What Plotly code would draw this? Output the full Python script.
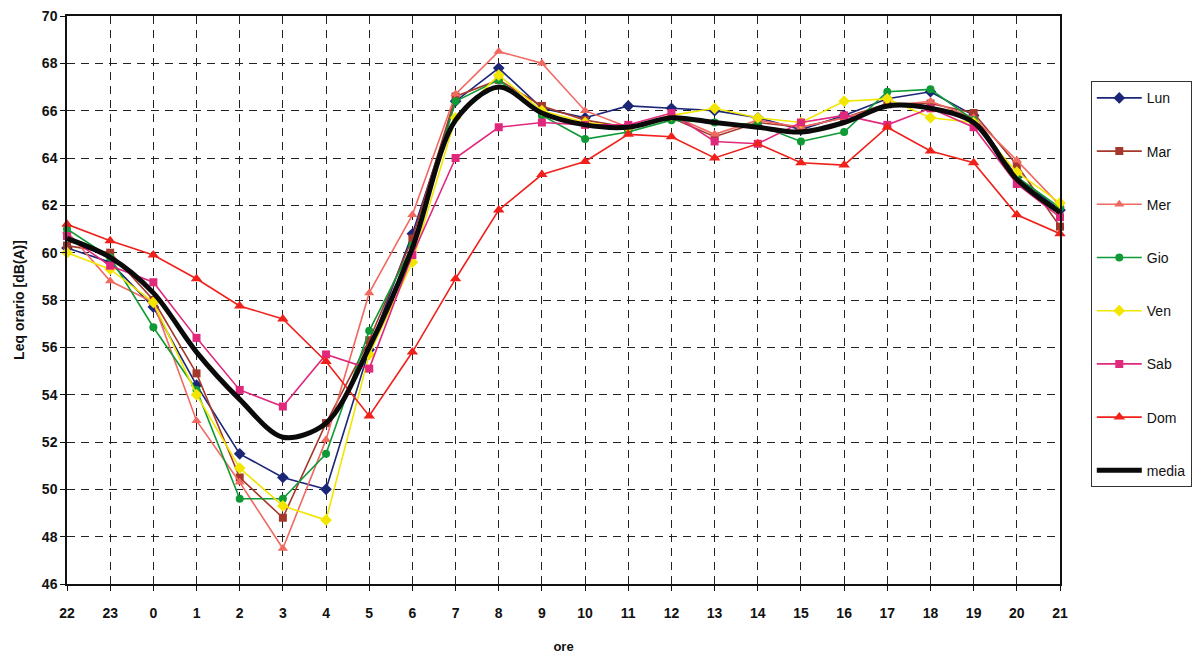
import plotly.graph_objects as go

# Hourly equivalent sound level, one series per weekday plus the average
hours = ["22", "23", "0", "1", "2", "3", "4", "5", "6", "7", "8", "9",
         "10", "11", "12", "13", "14", "15", "16", "17", "18", "19", "20", "21"]

lun = [60.2, 59.6, 57.7, 54.4, 51.5, 50.5, 50.0, 55.9, 60.8, 66.4, 67.8, 66.1,
       65.7, 66.2, 66.1, 66.0, 65.7, 65.2, 65.8, 66.5, 66.8, 65.8, 63.2, 61.8]
mar = [60.3, 60.0, 58.0, 54.9, 50.5, 48.8, 52.8, 56.3, 60.6, 66.6, 67.3, 66.2,
       65.6, 65.3, 65.7, 64.9, 65.5, 65.3, 65.7, 66.3, 66.3, 65.9, 63.7, 61.1]
mer = [60.9, 58.8, 57.9, 52.9, 50.3, 47.5, 52.1, 58.3, 61.6, 66.7, 68.5, 68.0,
       66.0, 65.3, 65.8, 65.0, 65.6, 65.3, 65.7, 66.2, 66.4, 65.7, 63.9, 62.0]
gio = [61.0, 59.8, 56.85, 54.2, 49.6, 49.6, 51.5, 56.7, 60.3, 66.4, 67.3, 65.8,
       64.8, 65.1, 65.6, 65.5, 65.4, 64.7, 65.1, 66.8, 66.9, 65.6, 63.2, 61.9]
ven = [60.0, 59.3, 57.9, 54.0, 50.9, 49.3, 48.7, 55.7, 59.6, 65.7, 67.5, 66.0,
       65.5, 65.3, 65.8, 66.1, 65.7, 65.5, 66.4, 66.5, 65.7, 65.5, 63.4, 62.1]
sab = [60.7, 59.45, 58.75, 56.4, 54.2, 53.5, 55.7, 55.1, 59.9, 64.0, 65.3, 65.5,
       65.4, 65.4, 65.9, 64.7, 64.6, 65.5, 65.8, 65.4, 66.1, 65.3, 62.9, 61.5]
dom = [61.2, 60.5, 59.9, 58.9, 57.75, 57.2, 55.4, 53.1, 55.8, 58.9, 61.8, 63.3,
       63.85, 65.0, 64.9, 64.0, 64.6, 63.8, 63.7, 65.3, 64.3, 63.8, 61.6, 60.8]
media = [60.6, 59.8, 58.3, 55.8, 53.8, 52.2, 52.8, 56.0, 60.2, 65.6, 67.0, 65.9,
         65.4, 65.3, 65.7, 65.5, 65.3, 65.1, 65.5, 66.2, 66.1, 65.5, 63.1, 61.7]

y_ticks = list(range(46, 71, 2))

series = [
    ("Lun", lun, "#1b2677", "diamond", 9),
    ("Mar", mar, "#a5382c", "square", 8),
    ("Mer", mer, "#f06a62", "triangle-up", 9),
    ("Gio", gio, "#0f9a35", "circle", 8),
    ("Ven", ven, "#f2e600", "diamond", 9),
    ("Sab", sab, "#e0287d", "square", 8),
    ("Dom", dom, "#f0201a", "triangle-up", 10),
]

fig = go.Figure()
for name, vals, color, symbol, size in series:
    fig.add_trace(go.Scatter(
        x=hours, y=vals, name=name, mode="lines+markers",
        line=dict(color=color, width=1.6),
        marker=dict(symbol=symbol, size=size, color=color),
        cliponaxis=False, legendgroup=name,
    ))

fig.add_trace(go.Scatter(
    x=hours, y=media, name="media", mode="lines",
    line=dict(color="#0a0a0a", width=5, shape="spline", smoothing=0.9),
    cliponaxis=False, legendgroup="media",
))

font_family = "Liberation Sans, Arial"
tick_font = dict(family=font_family, size=14, color="#111111", weight="bold")

fig.update_layout(
    width=1204, height=654,
    margin=dict(l=67, r=142, t=16, b=70),
    plot_bgcolor="white", paper_bgcolor="white",
    showlegend=True,
    legend=dict(
        x=1.031, y=0.885, xanchor="left", yanchor="top",
        bordercolor="#333333", borderwidth=1, bgcolor="white",
        font=dict(family=font_family, size=14, color="#111111"),
        traceorder="grouped", tracegroupgap=32, itemwidth=45,
    ),
    xaxis=dict(
        type="category", range=[0, 23], automargin=False,
        showline=True, linecolor="#111111", linewidth=1.5, mirror=True,
        showgrid=True, gridcolor="#222222", gridwidth=1.4, griddash="8px,6px",
        ticks="outside", ticklen=5, tickcolor="#111111",
        tickfont=tick_font,
        ticklabelstandoff=10,
        title=dict(text="<b>ore</b>",
                   font=dict(family=font_family, size=13, color="#111111"),
                   standoff=30),
        zeroline=False,
    ),
    yaxis=dict(
        range=[46, 70], tickvals=y_ticks, automargin=False,
        showline=True, linecolor="#111111", linewidth=1.5, mirror=True,
        showgrid=True, gridcolor="#222222", gridwidth=1.4, griddash="8px,6px",
        ticks="outside", ticklen=5, tickcolor="#111111",
        tickfont=tick_font,
        title=dict(text="<b>Leq orario [dB(A)]</b>",
                   font=dict(family=font_family, size=14, color="#111111"),
                   standoff=14),
        zeroline=False,
    ),
)

fig.write_html("out.html")
